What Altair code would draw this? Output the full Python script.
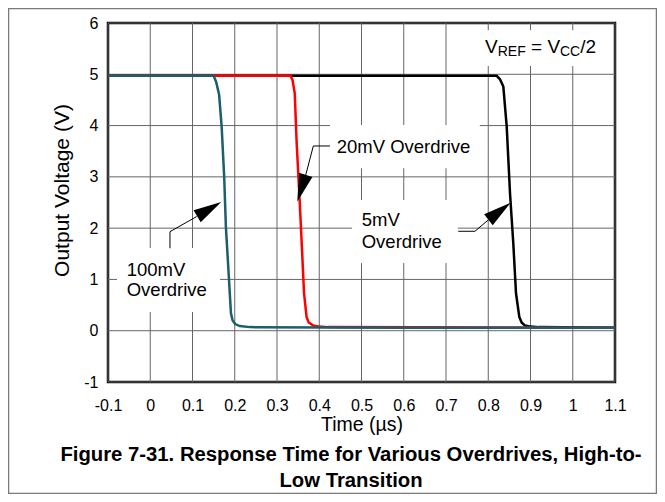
import altair as alt
import pandas as pd

# ---------------- data ----------------
x_ticks = [-0.1, 0, 0.1, 0.2, 0.3, 0.4, 0.5, 0.6, 0.7, 0.8, 0.9, 1, 1.1]
y_ticks = [-1, 0, 1, 2, 3, 4, 5, 6]

# 100mV overdrive (teal)
t_100 = [-0.1, 0.150, 0.156, 0.163, 0.169, 0.175, 0.179, 0.186, 0.191, 0.195, 0.201, 0.212, 0.236, 0.6, 1.1]
v_100 = [4.97, 4.97, 4.85, 4.60, 3.98, 3.00, 2.03, 1.05, 0.34, 0.20, 0.13, 0.09, 0.07, 0.06, 0.06]
# 20mV overdrive (red)
t_20 = [-0.1, 0.332, 0.337, 0.342, 0.3466, 0.3528, 0.3585, 0.364, 0.370, 0.375, 0.386, 0.400, 0.420, 1.1]
v_20 = [4.97, 4.97, 4.88, 4.63, 3.65, 2.68, 1.70, 0.73, 0.27, 0.16, 0.10, 0.08, 0.07, 0.06]
# 5mV overdrive (black)
t_5 = [-0.1, 0.820, 0.828, 0.8357, 0.8437, 0.8515, 0.8593, 0.8657, 0.8735, 0.879, 0.887, 0.900, 0.920, 1.1]
v_5 = [4.97, 4.97, 4.90, 4.76, 3.98, 2.68, 1.70, 0.73, 0.27, 0.16, 0.10, 0.08, 0.07, 0.06]

# annotation texts (data coordinates)
lab_text = ["20mV Overdrive", "5mV", "Overdrive", "100mV", "Overdrive"]
lab_t = [0.4413, 0.5005, 0.5005, -0.0557, -0.0557]
lab_v = [3.588, 2.159, 1.735, 1.184, 0.794]

# V_REF = V_CC/2 pieces
vref_text = ["V", "REF", "= V", "CC", "/2"]
vref_t = [0.7923, 0.8224, 0.9012, 0.9698, 1.0176]
vref_v = [5.421, 5.357, 5.421, 5.357, 5.421]
vref_fs = [19, 14, 19, 14, 19]

# white label boxes
box_t1 = [0.7757, 0.4254, 0.4775, -0.0787]
box_t2 = [1.088, 0.78, 0.728, 0.165]
box_v1 = [5.86, 4.01, 2.549, 1.613]
box_v2 = [5.16, 3.17, 1.32, 0.365]

# leader line segments
seg_t1 = [0.4254, 0.386, 0.0467, 0.0467, 0.729, 0.7686]
seg_v1 = [3.602, 3.602, 1.607, 1.931, 1.939, 1.939]
seg_t2 = [0.386, 0.368, 0.0467, 0.110, 0.7686, 0.80]
seg_v2 = [3.602, 3.037, 1.931, 2.227, 1.939, 2.159]

# arrow heads
arr_t = [0.358, 0.1395, 0.8266]
arr_v = [2.777, 2.372, 2.329]
arr_ang = [197.7, 59.4, 52.3]

# figure caption
cap_line1 = "Figure 7-31. Response Time for Various Overdrives, High-to-"
cap_line2 = "Low Transition"

FONT = "Liberation Sans"
W, H = 507, 359
xs = alt.Scale(domain=[-0.1, 1.1], nice=False, zero=False)
ys = alt.Scale(domain=[-1, 6], nice=False, zero=False)

AX = alt.Axis(
    values=x_ticks, title="Time (µs)", grid=False, ticks=False, domain=False,
    labelExpr="'' + datum.value", labelPadding=15, labelFontSize=16,
    labelFlush=False, labelOverlap=False,
    titleFontSize=19.5, titleY=42, titleBaseline="middle")
AY = alt.Axis(
    values=y_ticks, title="Output Voltage (V)", grid=False, ticks=False, domain=False,
    labelExpr="'' + datum.value", labelPadding=10, labelFontSize=16,
    labelFlush=False, labelOverlap=False,
    titleFontSize=21, titleX=-46, titleY=167, titleBaseline="middle")

# ---------------- layers ----------------
frame = alt.Chart(pd.DataFrame({"f": [0]})).mark_rect(
    filled=False, stroke="#7a7a7a", strokeWidth=1.5
).encode(x=alt.value(-99.5), x2=alt.value(548.5), y=alt.value(-14.5), y2=alt.value(470.5))

# grid built as explicit segments spanning the axis ranges
GRID = "#666666"
vg = pd.DataFrame({"g1": x_ticks, "g2": x_ticks,
                   "h1": [min(y_ticks)] * len(x_ticks), "h2": [max(y_ticks)] * len(x_ticks)})
hg = pd.DataFrame({"g1": [min(x_ticks)] * len(y_ticks), "g2": [max(x_ticks)] * len(y_ticks),
                   "h1": y_ticks, "h2": y_ticks})
grid = alt.Chart(pd.concat([vg, hg], ignore_index=True)).mark_rule(
    color=GRID, strokeWidth=1
).encode(
    x=alt.X("g1:Q", scale=xs, axis=AX), x2="g2:Q",
    y=alt.Y("h1:Q", scale=ys, axis=AY), y2="h2:Q",
)

boxes = alt.Chart(pd.DataFrame({"t1": box_t1, "t2": box_t2, "v1": box_v1, "v2": box_v2})).mark_rect(
    color="white", opacity=1
).encode(
    x=alt.X("t1:Q", scale=xs, axis=AX), x2="t2:Q",
    y=alt.Y("v1:Q", scale=ys, axis=AY), y2="v2:Q",
)

def curve(ts, vs, color):
    return alt.Chart(pd.DataFrame({"t": ts, "v": vs})).mark_line(
        color=color, strokeWidth=2.5, interpolate="linear"
    ).encode(
        x=alt.X("t:Q", scale=xs, axis=AX),
        y=alt.Y("v:Q", scale=ys, axis=AY),
        order="t:Q",
    )

black = curve(t_5, v_5, "#000000")
red = curve(t_20, v_20, "#ff0000")
teal = curve(t_100, v_100, "#1b5e6c")

segs = alt.Chart(pd.DataFrame({"s1": seg_t1, "w1": seg_v1, "s2": seg_t2, "w2": seg_v2})).mark_rule(
    color="black", strokeWidth=1
).encode(
    x=alt.X("s1:Q", scale=xs, axis=AX), x2="s2:Q",
    y=alt.Y("w1:Q", scale=ys, axis=AY), y2="w2:Q",
)

arrows = alt.Chart(pd.DataFrame({"at": arr_t, "av": arr_v, "a": arr_ang})).mark_point(
    shape="M0,-1L0.5,1L-0.5,1Z", filled=True, size=784, color="black", opacity=1, strokeWidth=0
).encode(
    x=alt.X("at:Q", scale=xs, axis=AX),
    y=alt.Y("av:Q", scale=ys, axis=AY),
    angle=alt.Angle("a:Q", scale=None),
)

labels = alt.Chart(pd.DataFrame({"lt": lab_t, "lv": lab_v, "txt": lab_text})).mark_text(
    align="left", baseline="middle", fontSize=18.5, font=FONT, color="black"
).encode(
    x=alt.X("lt:Q", scale=xs, axis=AX),
    y=alt.Y("lv:Q", scale=ys, axis=AY),
    text="txt:N",
)

vref = alt.Chart(pd.DataFrame({"rt": vref_t, "rv": vref_v, "rtxt": vref_text, "fs": vref_fs})).mark_text(
    align="left", baseline="alphabetic", font=FONT, color="black"
).encode(
    x=alt.X("rt:Q", scale=xs, axis=AX),
    y=alt.Y("rv:Q", scale=ys, axis=AY),
    text="rtxt:N",
    size=alt.Size("fs:Q", scale=None, legend=None),
)

cap_style = dict(align="center", baseline="middle", fontSize=20.3, fontWeight="bold", font=FONT, color="black")
cap1 = alt.Chart(pd.DataFrame({"c": [1]})).mark_text(text=cap_line1, **cap_style).encode(
    x=alt.value(243), y=alt.value(432))
cap2 = alt.Chart(pd.DataFrame({"c": [2]})).mark_text(text=cap_line2, **cap_style).encode(
    x=alt.value(243), y=alt.value(458))

chart = alt.layer(frame, grid, boxes, black, red, teal, segs, arrows, labels, vref, cap1, cap2).properties(
    width=W, height=H,
    autosize=alt.AutoSizeParams(type="none"),
    padding={"left": 100, "top": 15, "right": 42, "bottom": 112},
).configure_view(
    stroke="black", strokeWidth=2.5
).configure_axis(
    labelFont=FONT, titleFont=FONT, labelColor="black", titleColor="black",
    titleFontWeight="normal",
)

chart.save("out.html", embed_options={"renderer": "svg", "actions": False})
